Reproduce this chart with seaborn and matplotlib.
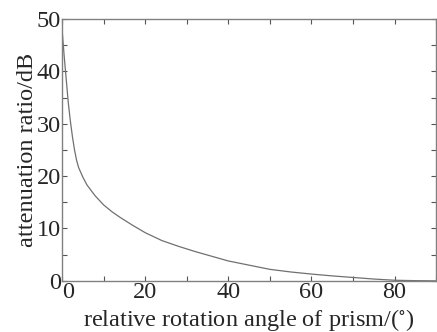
import numpy as np
import pandas as pd
import matplotlib
matplotlib.use("Agg")
import matplotlib.pyplot as plt
import matplotlib.transforms as mtransforms
from matplotlib.ticker import MultipleLocator
import seaborn as sns

# data
angle_deg = [0, 0.5, 1, 1.5, 2, 2.5, 3, 3.5, 4, 5, 6, 8, 10, 12, 14, 17, 20,
             24, 28, 32, 36, 40, 45, 50, 55, 60, 65, 70, 75, 80, 85, 90]
atten_db = [48, 43, 38.5, 34, 30.5, 27.5, 25, 23, 21.6, 19.8, 18.3, 16.2, 14.5,
            13.2, 12.1, 10.6, 9.2, 7.7, 6.6, 5.6, 4.7, 3.8, 3.0, 2.2, 1.7, 1.3,
            0.95, 0.65, 0.35, 0.12, 0.04, 0.0]

x_ticks = [0, 20, 40, 60, 80]
x_label = "relative rotation angle of prism/($^{\\circ}$)"
y_label = "attenuation ratio/dB"

df = pd.DataFrame({"angle": angle_deg, "atten": atten_db})

sns.set_style("ticks")
plt.rcParams["font.family"] = ["Liberation Serif", "DejaVu Serif"]
plt.rcParams["mathtext.fontset"] = "stix"

fig = plt.figure(figsize=(4.37, 3.32), dpi=100)
ax = fig.add_axes([0.142, 0.154, 0.856, 0.789])

sns.lineplot(data=df, x="angle", y="atten", ax=ax, color="#707070", linewidth=0.9)

ax.set_xlim(0, 90)
ax.set_ylim(0, 50)
ax.set_xticks(x_ticks)
ax.xaxis.set_minor_locator(MultipleLocator(10))
ax.yaxis.set_major_locator(MultipleLocator(10))
ax.yaxis.set_minor_locator(MultipleLocator(5))

for s in ax.spines.values():
    s.set_color("#808080")
    s.set_linewidth(1.0)

ax.tick_params(which="both", direction="in", top=True, right=True,
               length=3.5, width=0.8, color="#555555",
               labelsize=17.5, pad=1)
ax.set_xlabel(x_label, fontsize=17.5, labelpad=3)
ax.set_ylabel(y_label, fontsize=17.5, labelpad=-1)

# nudge the x "0" right so it doesn't sit on the y "0"
fig.canvas.draw()
shift = mtransforms.ScaledTranslation(6 / 100, 0, fig.dpi_scale_trans)
for lab in ax.get_xticklabels():
    if lab.get_text() == "0":
        lab.set_transform(lab.get_transform() + shift)

fig.savefig("out.png", dpi=100)
